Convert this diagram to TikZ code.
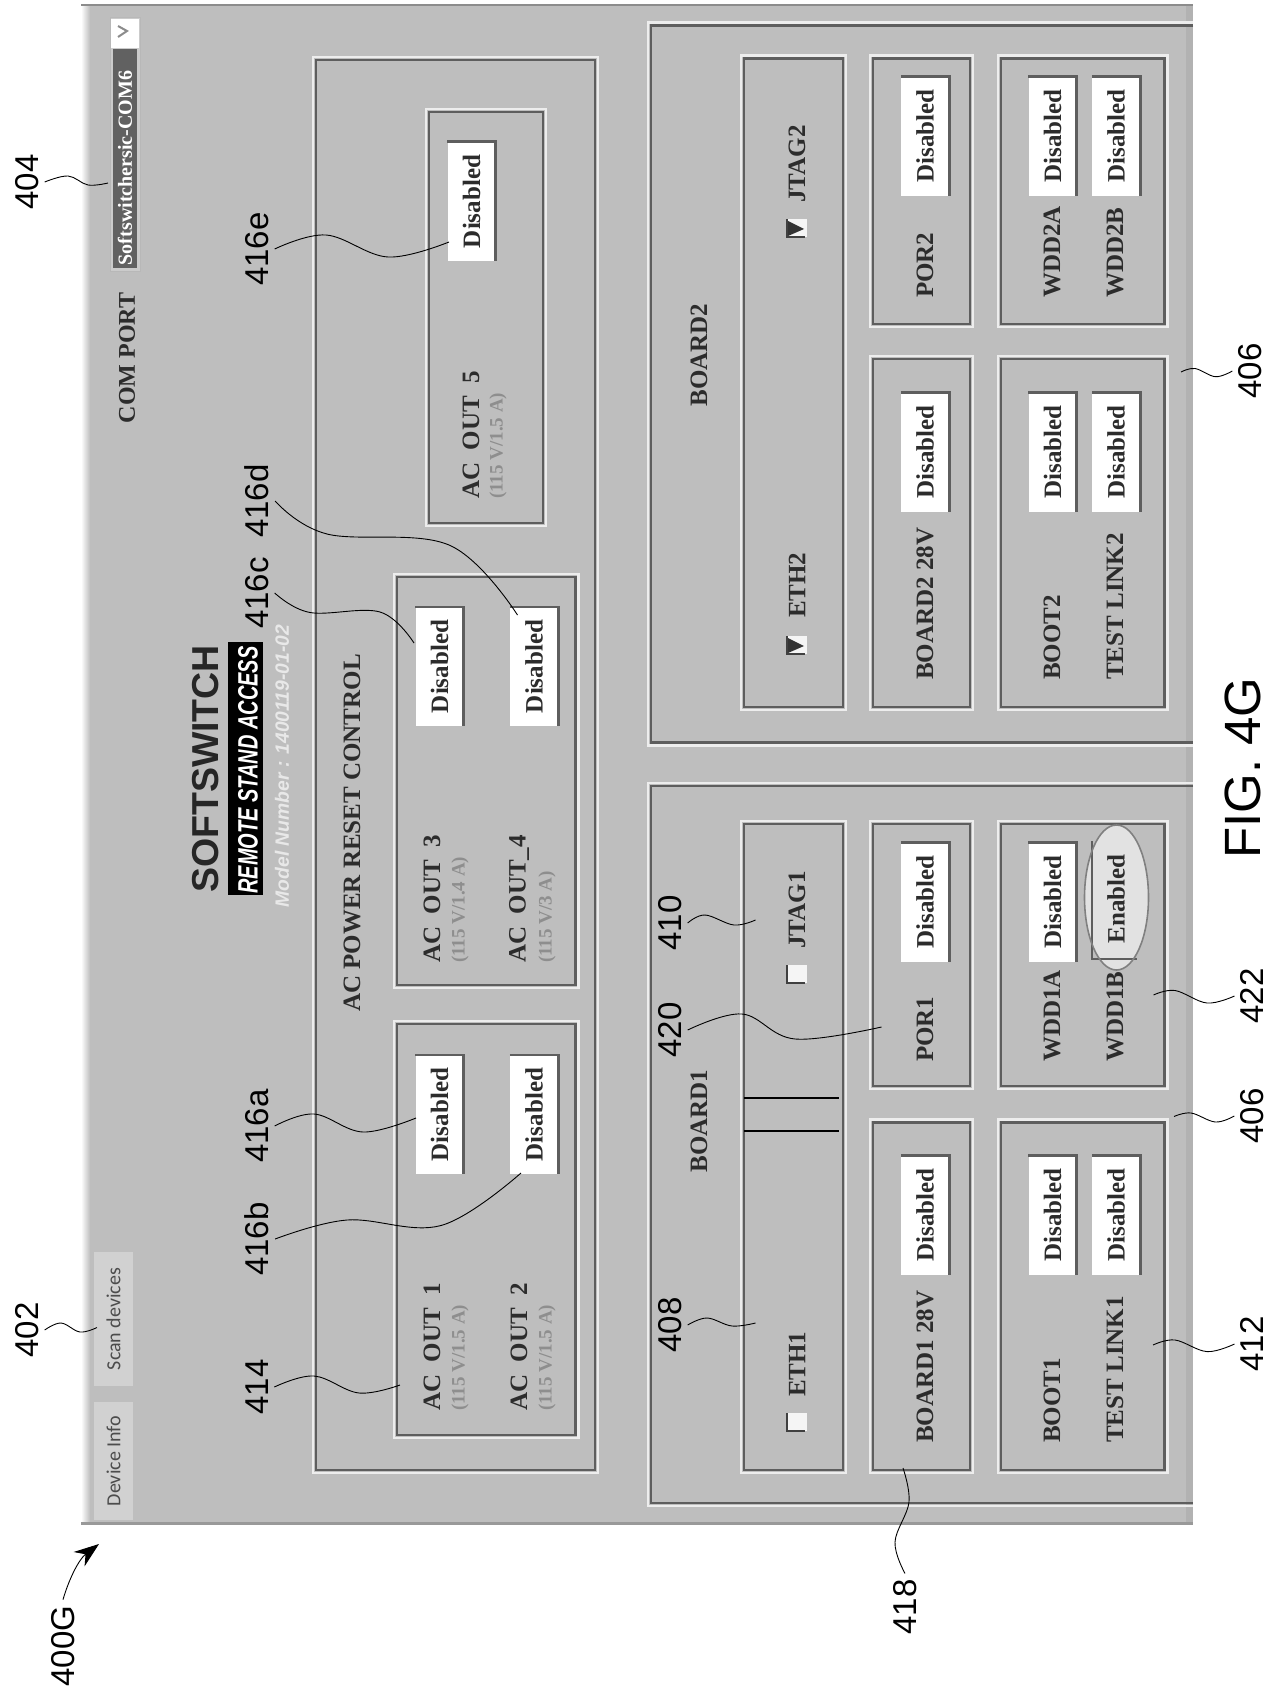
\documentclass[tikz,border=0pt]{standalone}
\usepackage{fontspec}
\setmainfont{Liberation Serif}
\newfontfamily\lsans{Liberation Sans}
\newfontfamily\carl{Carlito}
\usetikzlibrary{arrows.meta}
\definecolor{panel}{HTML}{BEBEBE}
\definecolor{frameline}{HTML}{5E5E5E}
\definecolor{uitext}{HTML}{2C2C2C}
\definecolor{subtext}{HTML}{8E8E8E}
\newcommand{\fsz}[1]{\fontsize{#1}{#1}\selectfont}
\tikzset{
  hilite/.style={draw=white!72!panel,line width=2.2pt},
  frameln/.style={draw=frameline,line width=2.6pt},
  uilabel/.style={rotate=90,inner sep=0pt,text=uitext,font=\bfseries\fsz{25},anchor=west},
  sublabel/.style={rotate=90,inner sep=0pt,text=subtext,font=\bfseries\fsz{19},anchor=west},
  uihead/.style={rotate=90,inner sep=0pt,text=uitext,font=\bfseries\fsz{25}},
  btnbox/.style={rotate=90,fill=white,inner sep=0pt,minimum width=119pt,minimum height=48pt,text=uitext,font=\bfseries\fsz{25}},
  btnedge/.style={draw=frameline,line width=2.6pt},
  callout/.style={rotate=90,inner sep=0pt,outer sep=6pt,text=black,font=\lsans\fsz{33}},
  leadline/.style={draw=black,line width=0.9pt},
  tabbox/.style={rotate=90,fill=white!30!panel,inner sep=0pt,minimum height=39pt,text=black!70,font=\carl\fsz{20}},
}
\newcommand{\framed}[4]{%
  \draw[hilite] (#1-3,#2-3) rectangle (#3+3,#4+3);
  \draw[frameln] (#1,#2) rectangle (#3,#4);}
\newcommand{\btn}[4][Disabled]{%
  \node[btnbox] (#2) at (#3,#4) {#1};
  \draw[btnedge] (#2.north east) -- (#2.south east) -- (#2.south west);}
\newcommand{\chkbox}[2]{%
  \fill[white!85!panel] (#1-9,#2-9) rectangle (#1+11,#2+9);
  \draw[draw=black!75,line width=2.2pt] (#1-9,#2-9) -- (#1-9,#2+9) -- (#1+9,#2+9);}
\newcommand{\chkmark}[2]{%
  \fill[black!80] (#1-8,#2-7) -- (#1+8,#2+1) -- (#1-8,#2+8) -- cycle;}
\begin{document}
\begin{tikzpicture}[x=1pt,y=-1pt]
\useasboundingbox (0,0) rectangle (1279,1691);
\fill[white] (0,0) rectangle (1279,1691);
% panel
\shade[left color=white,right color=panel] (81,5) rectangle (90,1523);
\fill[panel] (90,5) rectangle (1193,1523);
\fill[black!30] (1186,6) rectangle (1193,1523);
\draw[draw=black!45,line width=2.5pt] (81,5) -- (1193,5);
\draw[draw=black!40,line width=3pt] (81,1523) -- (1193,1523);
% combo
\fill[white!20!panel,draw=black!28,line width=1pt] (110,18) rectangle (140,271);
\fill[white] (111,19) rectangle (139,48);
\fill[black!62] (113,49) rectangle (137,268);
\draw[draw=black!45,line width=2pt] (118,26) -- (127,31) -- (118,37);
\node[rotate=90,inner sep=0pt,text=white,font=\bfseries\fsz{20}] (combotext) at (125,168) {Softswitchersic-COM6};
\node[uihead,font=\bfseries\fsz{24}] (comport) at (127,358) {COM PORT};
% tabs
\node[tabbox,minimum width=118pt] (tabinfo) at (113.5,1461) {Device Info};
\node[tabbox,minimum width=134pt] (tabscan) at (113.5,1319) {Scan devices};
% title
\node[rotate=90,inner sep=0pt,text=black!85,font=\lsans\bfseries\fsz{37.5}] (title) at (206,769) {SOFTSWITCH};
\fill[black] (228,642) rectangle (263,895);
\node[rotate=90,xscale=.714,inner sep=0pt,text=white,font=\lsans\bfseries\itshape\fsz{28}] (subtitle) at (248,770) {REMOTE STAND ACCESS};
\node[rotate=90,inner sep=0pt,text=white!65!panel,font=\lsans\bfseries\itshape\fsz{19.3}] (model) at (282,766) {Model Number : 1400119-01-02};
% AC frame
\framed{316}{60}{595}{1470}
\node[uihead] (achead) at (352,833) {AC POWER RESET CONTROL};
\framed{429}{112}{543}{523}
\framed{397}{577}{575.5}{985}
\framed{397}{1024}{575.5}{1435}
\node[uilabel] (ac5) at (471,499) {AC\ \ OUT\ \ 5};
\node[sublabel] (ac5s) at (498,499) {(115 V/1.5 A)};
\node[uilabel] (ac3) at (432,963) {AC\ \ OUT\ \ 3};
\node[sublabel] (ac3s) at (460,963) {(115 V/1.4 A)};
\node[uilabel] (ac4) at (519,963) {AC\ \ OUT\_4};
\node[sublabel] (ac4s) at (547,963) {(115 V/3 A)};
\node[uilabel] (ac1) at (432,1411) {AC\ \ OUT\ \ 1};
\node[sublabel] (ac1s) at (460,1411) {(115 V/1.5 A)};
\node[uilabel] (ac2) at (519,1411) {AC\ \ OUT\ \ 2};
\node[sublabel] (ac2s) at (547,1411) {(115 V/1.5 A)};
\btn{bac5}{471.5}{201.5}
\btn{bac3}{439.5}{666.5}
\btn{bac4}{534}{666.5}
\btn{bac1}{439.5}{1114.5}
\btn{bac2}{534}{1114.5}
% BOARD2
\draw[hilite] (1193,22.5) -- (648,22.5) -- (648,745.5) -- (1193,745.5);
\draw[frameln] (1193,25.5) -- (651,25.5) -- (651,742.5) -- (1193,742.5);
\node[uihead] (board2) at (699,355) {BOARD2};
\framed{744}{58.5}{843}{707}
\framed{873}{58.5}{970}{324}
\framed{873}{359}{970}{707}
\framed{1001}{58.5}{1164.5}{324}
\framed{1001}{359}{1164.5}{707}
\chkbox{796}{645}\chkmark{796}{645}
\chkbox{796}{228}\chkmark{796}{228}
\node[uilabel] (eth2) at (797,618) {ETH2};
\node[uilabel] (jtag2) at (797,203) {JTAG2};
\node[uilabel] (por2) at (925,298) {POR2};
\node[uilabel] (b228) at (925,680) {BOARD2 28V};
\node[uilabel] (wdd2a) at (1052,298) {WDD2A};
\node[uilabel] (wdd2b) at (1115,298) {WDD2B};
\node[uilabel] (boot2) at (1052,680) {BOOT2};
\node[uilabel] (tl2) at (1115,680) {TEST LINK2};
\btn{bpor2}{925}{136}
\btn{bb228}{925}{452}
\btn{bwdd2a}{1052.5}{136}
\btn{bwdd2b}{1116}{136}
\btn{bboot2}{1052.5}{452}
\btn{btl2}{1116}{452}
% BOARD1
\draw[hilite] (1193,783) -- (648,783) -- (648,1506) -- (1193,1506);
\draw[frameln] (1193,786) -- (651,786) -- (651,1503) -- (1193,1503);
\node[uihead] (board1) at (699,1121) {BOARD1};
\framed{744}{824}{843}{1470}
\framed{873}{824}{970}{1086}
\framed{873}{1122.5}{970}{1470}
\framed{1001}{824}{1164.5}{1086}
\framed{1001}{1122.5}{1164.5}{1470}
\chkbox{796}{1422}
\chkbox{796}{974}
\node[uilabel] (eth1) at (797,1397) {ETH1};
\node[uilabel] (jtag1) at (797,949) {JTAG1};
\node[uilabel] (por1) at (925,1062) {POR1};
\node[uilabel] (b128) at (925,1443) {BOARD1 28V};
\node[uilabel] (wdd1a) at (1052,1062) {WDD1A};
\node[uilabel] (wdd1b) at (1115,1062) {WDD1B};
\node[uilabel] (boot1) at (1052,1443) {BOOT1};
\node[uilabel] (tl1) at (1115,1443) {TEST LINK1};
\btn{bpor1}{925}{902}
\btn{bb128}{925}{1215}
\btn{bwdd1a}{1052.5}{902}
\btn{bboot1}{1052.5}{1215}
\btn{btl1}{1116}{1215}
% enabled, ringed
\fill[white!55!panel] (1116.5,897.5) ellipse (32 and 72.5);
\node[rotate=90,inner sep=0pt,text=uitext,font=\bfseries\fsz{25}] (benabled) at (1116,899) {Enabled};
\draw[draw=frameline,line width=2pt] (1092,841) -- (1092,959) -- (1137,959);
\draw[draw=black!50,line width=1.6pt] (1116.5,897.5) ellipse (32 and 72.5);
% break marks
\coordinate (brk1a) at (744,1098); \coordinate (brk1b) at (839,1098);
\coordinate (brk2a) at (744,1131); \coordinate (brk2b) at (839,1131);
\draw[draw=black,line width=1.2pt] (brk1a) -- (brk1b);
\draw[draw=black,line width=1.2pt] (brk2a) -- (brk2b);
% callouts
\node[callout] (l404) at (27,182) {404};
\node[callout] (l402) at (27,1330) {402};
\node[callout] (l400g) at (63,1646) {400G};
\node[callout] (l416e) at (257,249) {416e};
\node[callout] (l416d) at (257,501) {416d};
\node[callout] (l416c) at (257,593) {416c};
\node[callout] (l416a) at (257,1126) {416a};
\node[callout] (l416b) at (257,1239) {416b};
\node[callout] (l414) at (257,1387) {414};
\node[callout] (l410) at (670,923) {410};
\node[callout] (l420) at (670,1030) {420};
\node[callout] (l408) at (670,1325) {408};
\node[callout] (l418) at (905,1607) {418};
\node[callout] (l406a) at (1250,371) {406};
\node[callout] (l406b) at (1252,1116) {406};
\node[callout] (l422) at (1252,996) {422};
\node[callout] (l412) at (1252,1344) {412};
\node[rotate=90,inner sep=0pt,text=black,font=\lsans\fsz{51}] (figlabel) at (1243,768) {FIG. 4G};
% leader ends
\coordinate (t404) at (108,183);
\coordinate (t402) at (97,1327.5);
\coordinate (t400g) at (99,1544);
\coordinate (t416e) at (449,242);
\coordinate (t416d) at (517.5,615);
\coordinate (t416c) at (414,643);
\coordinate (t416a) at (416,1118);
\coordinate (t416b) at (521,1173);
\coordinate (t414) at (400,1385);
\coordinate (t410) at (755.5,920);
\coordinate (t420) at (881.5,1027);
\coordinate (t408) at (755.5,1323);
\coordinate (t418) at (903,1468);
\coordinate (t406a) at (1181,372);
\coordinate (t406b) at (1174,1116.5);
\coordinate (t422) at (1153.5,995);
\coordinate (t412) at (1153,1345);
\tikzset{sm/.style={smooth,tension=.62}}
\draw[leadline] plot[sm] coordinates {(l404.south) (68,176) (88,185) (t404)};
\draw[leadline] plot[sm] coordinates {(l402.south) (61,1323) (80,1332) (t402)};
\draw[leadline] plot[sm] coordinates {(l416e.south) (326,235) (388,257) (t416e)};
\draw[leadline] plot[sm] coordinates {(l416d.south) (327,534) (449,545) (t416d)};
\draw[leadline] plot[sm] coordinates {(l416c.south) (310,612.5) (380,612) (t416c)};
\draw[leadline] plot[sm] coordinates {(l416a.south) (314,1114) (363,1132) (t416a)};
\draw[leadline] plot[sm] coordinates {(l416b.south) (347,1220) (441,1225.5) (t416b)};
\draw[leadline] plot[sm] coordinates {(l414.south) (314,1376) (359,1393) (t414)};
\draw[leadline] plot[sm] coordinates {(l410.south) (705,915) (734,925) (t410)};
\draw[leadline] plot[sm] coordinates {(l420.south) (742,1014) (795,1039) (t420)};
\draw[leadline] plot[sm] coordinates {(l408.south) (707,1318) (732,1326) (t408)};
\draw[leadline] plot[sm] coordinates {(l418.east) (895,1542) (909,1502) (t418)};
\draw[leadline] plot[sm] coordinates {(l406a.north) (1215.5,376.7) (1195,368.5) (t406a)};
\draw[leadline] plot[sm] coordinates {(l406b.north) (1215.5,1122) (1191,1113) (t406b)};
\draw[leadline] plot[sm] coordinates {(l422.north) (1207,1003) (1175,990.5) (t422)};
\draw[leadline] plot[sm] coordinates {(l412.north) (1207,1351.6) (1175,1340) (t412)};
\draw[leadline,-{Stealth[length=25pt,width=18pt]}] (l400g.east) .. controls (68,1582) and (78,1560) .. (t400g);
\end{tikzpicture}
\end{document}
